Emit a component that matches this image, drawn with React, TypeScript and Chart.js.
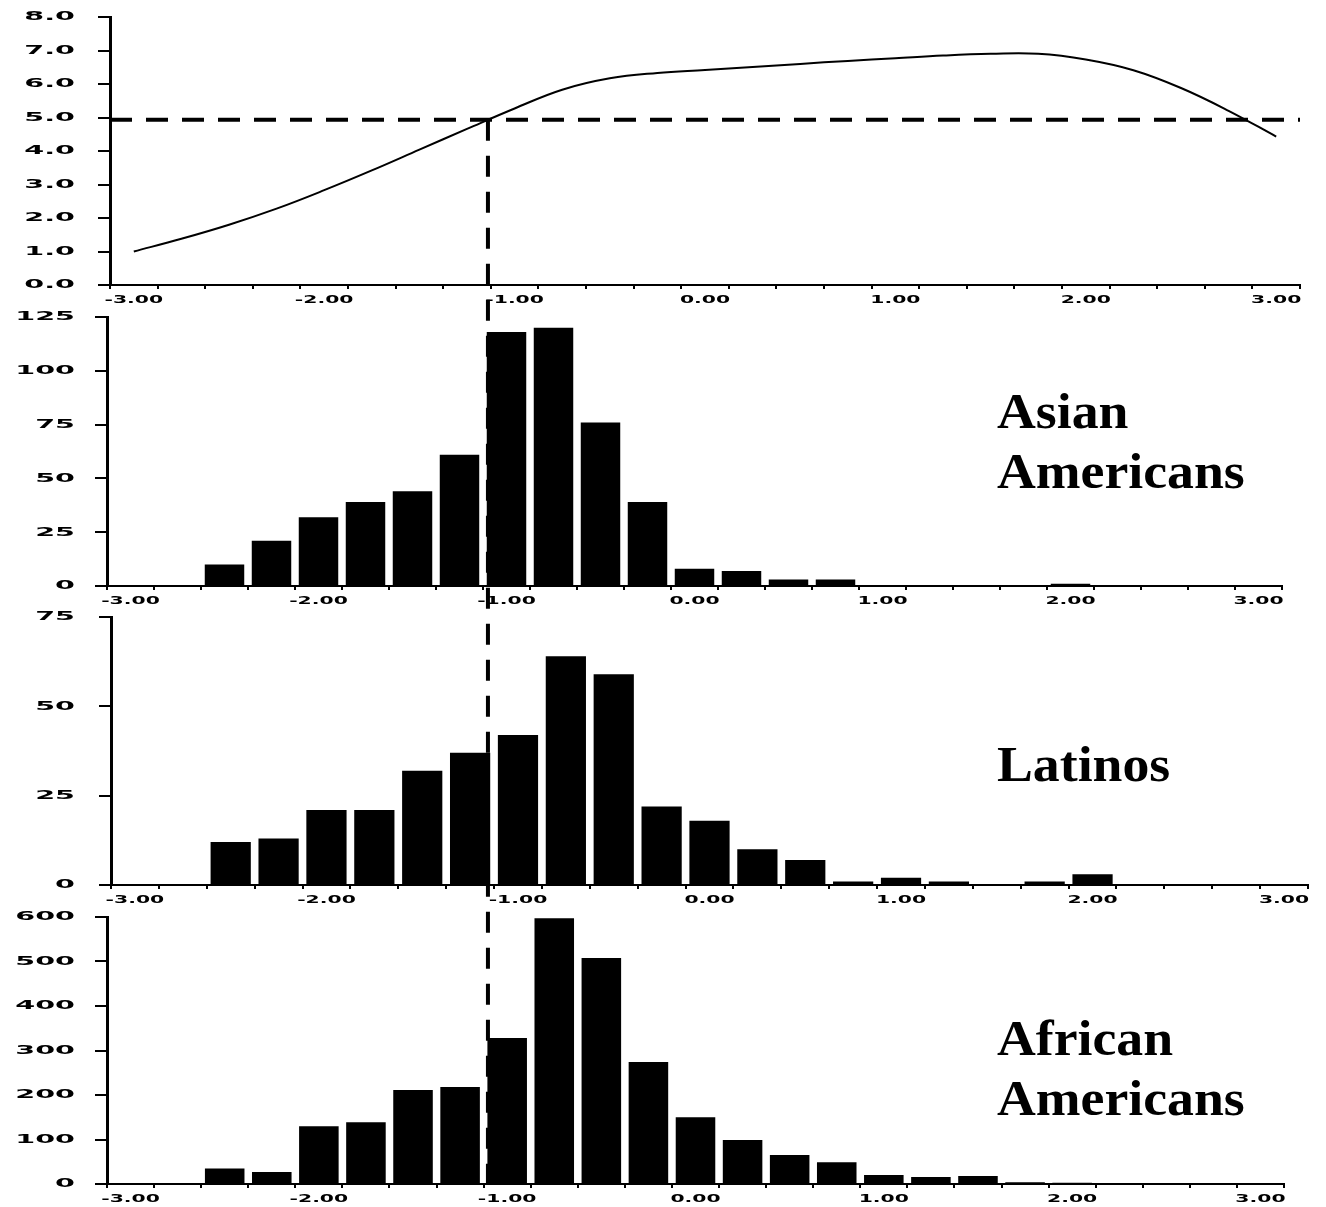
import React, { useEffect, useRef } from 'react';
import { Chart, registerables } from 'chart.js';

Chart.register(...registerables);

// ---------- data ----------
const BIN_CENTERS = [
  -3.0, -2.75, -2.5, -2.25, -2.0, -1.75, -1.5, -1.25, -1.0, -0.75, -0.5, -0.25,
  0.0, 0.25, 0.5, 0.75, 1.0, 1.25, 1.5, 1.75, 2.0, 2.25, 2.5, 2.75, 3.0,
];
const BIN_WIDTH = 0.25;

const X_LABEL_VALUES = [-3, -2, -1, 0, 1, 2, 3];
const X_LABELS = ['-3.00', '-2.00', '-1.00', '0.00', '1.00', '2.00', '3.00'];

// top panel curve (value at each bin centre)
const CURVE_Y = [
  1.0, 1.38, 1.8, 2.28, 2.83, 3.42, 4.04, 4.66, 5.27, 5.83, 6.17, 6.33,
  6.42, 6.51, 6.6, 6.69, 6.77, 6.85, 6.9, 6.9, 6.73, 6.41, 5.88, 5.2, 4.43,
];
const CUTOFF_Y = 4.93;
const CUTOFF_X = -1.14;

const TOP_Y_VALUES = [0, 1, 2, 3, 4, 5, 6, 7, 8];
const TOP_Y_LABELS = ['0.0', '1.0', '2.0', '3.0', '4.0', '5.0', '6.0', '7.0', '8.0'];

const ASIAN_COUNTS = [0, 0, 10, 21, 32, 39, 44, 61, 118, 120, 76, 39, 8, 7, 3, 3, 0, 0, 0, 0, 1, 0, 0, 0, 0];
const ASIAN_Y_VALUES = [0, 25, 50, 75, 100, 125];
const ASIAN_Y_LABELS = ['0', '25', '50', '75', '100', '125'];

const LATINO_COUNTS = [0, 0, 12, 13, 21, 21, 32, 37, 42, 64, 59, 22, 18, 10, 7, 1, 2, 1, 0, 1, 3, 0, 0, 0, 0];
const LATINO_Y_VALUES = [0, 25, 50, 75];
const LATINO_Y_LABELS = ['0', '25', '50', '75'];

const AFRICAN_COUNTS = [0, 0, 35, 27, 130, 139, 211, 218, 328, 597, 508, 274, 150, 99, 65, 49, 20, 16, 18, 4, 3, 0, 2, 0, 0];
const AFRICAN_Y_VALUES = [0, 100, 200, 300, 400, 500, 600];
const AFRICAN_Y_LABELS = ['0', '100', '200', '300', '400', '500', '600'];

const ASIAN_TITLE = ['Asian', 'Americans'];
const LATINO_TITLE = ['Latinos'];
const AFRICAN_TITLE = ['African', 'Americans'];

// ---------- layout ----------
const W = 1326;
const PANELS = [
  { top: 0, height: 305, pad: { left: 98, right: 26, top: 17, bottom: 16 } },
  { top: 305, height: 300, pad: { left: 95, right: 44, top: 12, bottom: 15 } },
  { top: 605, height: 300, pad: { left: 99, right: 18, top: 12, bottom: 16 } },
  { top: 905, height: 302, pad: { left: 95, right: 42, top: 12, bottom: 19 } },
];
const Y_LABEL_RIGHT = 75;
const TITLE_X = 997;

const X_MIN = BIN_CENTERS[0] - BIN_WIDTH / 2;
const X_MAX = BIN_CENTERS[BIN_CENTERS.length - 1] + BIN_WIDTH / 2;
const BIN_EDGES = [...BIN_CENTERS.map((c) => c - BIN_WIDTH / 2), X_MAX];

function xScale() {
  return {
    type: 'linear',
    min: X_MIN,
    max: X_MAX,
    offset: false,
    afterBuildTicks: (s: any) => {
      s.ticks = BIN_EDGES.map((v) => ({ value: v }));
    },
    ticks: { display: false },
    grid: {
      display: true,
      drawOnChartArea: false,
      drawTicks: true,
      tickLength: 4,
      color: '#000',
      lineWidth: 2,
      offset: false,
    },
    border: { display: true, color: '#000', width: 2 },
  };
}

function yScale(values: number[]) {
  return {
    type: 'linear',
    min: values[0],
    max: values[values.length - 1],
    afterBuildTicks: (s: any) => {
      s.ticks = values.map((v) => ({ value: v }));
    },
    ticks: { display: false },
    grid: {
      display: true,
      drawOnChartArea: false,
      drawTicks: true,
      tickLength: 12,
      color: '#000',
      lineWidth: 2,
    },
    border: { display: true, color: '#000', width: 3 },
  };
}

function axisLabelPlugin(yValues: number[], yLabels: string[]) {
  return {
    id: 'axisLabels',
    afterDraw(chart: any) {
      const ctx = chart.ctx;
      const xs = chart.scales.x;
      const ys = chart.scales.y;
      const area = chart.chartArea;
      ctx.save();
      ctx.fillStyle = '#000';
      ctx.font = 'bold 13px "DejaVu Sans"';
      ctx.textAlign = 'right';
      ctx.textBaseline = 'middle';
      yValues.forEach((v, i) => {
        ctx.save();
        ctx.translate(Y_LABEL_RIGHT, ys.getPixelForValue(v));
        ctx.scale(2.2, 1);
        ctx.fillText(yLabels[i], 0, 0);
        ctx.restore();
      });
      ctx.font = 'bold 11px "DejaVu Sans"';
      ctx.textAlign = 'center';
      X_LABEL_VALUES.forEach((v, i) => {
        ctx.save();
        ctx.translate(xs.getPixelForValue(v), area.bottom + 15);
        ctx.scale(1.85, 1);
        ctx.fillText(X_LABELS[i], 0, 0);
        ctx.restore();
      });
      ctx.restore();
    },
  };
}

function cutLinePlugin(shared: any, canvasTop: number, mode: 'top' | 'mid' | 'bottom') {
  return {
    id: 'cutLine',
    beforeDatasetsDraw(chart: any) {
      const ctx = chart.ctx;
      let x: number;
      let y0: number;
      let y1: number;
      if (mode === 'top') {
        x = chart.scales.x.getPixelForValue(CUTOFF_X);
        y0 = chart.scales.y.getPixelForValue(CUTOFF_Y);
        shared.cutPx = x;
        shared.startY = canvasTop + y0;
        y1 = chart.height;
      } else {
        x = shared.cutPx;
        y0 = 0;
        y1 = mode === 'bottom' ? chart.chartArea.bottom : chart.height;
      }
      ctx.save();
      ctx.strokeStyle = '#000';
      ctx.lineWidth = 4;
      ctx.setLineDash([21, 15]);
      ctx.lineDashOffset = canvasTop + y0 - shared.startY;
      ctx.beginPath();
      ctx.moveTo(x, y0);
      ctx.lineTo(x, y1);
      ctx.stroke();
      ctx.restore();
    },
  };
}

function titlePlugin(lines: string[], baselines: number[]) {
  return {
    id: 'panelTitle',
    afterDraw(chart: any) {
      const ctx = chart.ctx;
      ctx.save();
      ctx.fillStyle = '#000';
      ctx.font = 'bold 50px "Liberation Serif"';
      ctx.textAlign = 'left';
      ctx.textBaseline = 'alphabetic';
      lines.forEach((t, i) => {
        ctx.save();
        ctx.translate(TITLE_X, baselines[i]);
        ctx.scale(1.075, 1);
        ctx.fillText(t, 0, 0);
        ctx.restore();
      });
      ctx.restore();
    },
  };
}

function barConfig(counts: number[], yValues: number[], yLabels: string[], panelIdx: number, shared: any, title: string[], baselines: number[]) {
  const p = PANELS[panelIdx];
  return {
    type: 'bar',
    data: {
      datasets: [
        {
          data: BIN_CENTERS.map((x, i) => ({ x, y: counts[i] })),
          backgroundColor: '#000',
          borderWidth: 0,
          barPercentage: 0.84,
          categoryPercentage: 1,
        },
      ],
    },
    options: {
      responsive: false,
      animation: false,
      events: [],
      layout: { padding: p.pad },
      plugins: { legend: { display: false }, tooltip: { enabled: false } },
      scales: { x: xScale(), y: yScale(yValues) },
    },
    plugins: [
      cutLinePlugin(shared, p.top, panelIdx === 3 ? 'bottom' : 'mid'),
      axisLabelPlugin(yValues, yLabels),
      titlePlugin(title, baselines),
    ],
  } as any;
}

export default function App() {
  const r1 = useRef<HTMLCanvasElement>(null);
  const r2 = useRef<HTMLCanvasElement>(null);
  const r3 = useRef<HTMLCanvasElement>(null);
  const r4 = useRef<HTMLCanvasElement>(null);

  useEffect(() => {
    const shared: any = { cutPx: 0, startY: 0 };
    const charts: Chart[] = [];
    const p0 = PANELS[0];

    charts.push(
      new Chart(r1.current as HTMLCanvasElement, {
        type: 'line',
        data: {
          datasets: [
            {
              data: BIN_CENTERS.map((x, i) => ({ x, y: CURVE_Y[i] })),
              borderColor: '#000',
              borderWidth: 2,
              pointRadius: 0,
              tension: 0.4,
              fill: false,
            },
            {
              data: [
                { x: X_MIN, y: CUTOFF_Y },
                { x: X_MAX, y: CUTOFF_Y },
              ],
              borderColor: '#000',
              borderWidth: 4,
              borderDash: [22, 14],
              pointRadius: 0,
              fill: false,
            },
          ],
        },
        options: {
          responsive: false,
          animation: false,
          events: [],
          layout: { padding: p0.pad },
          plugins: { legend: { display: false }, tooltip: { enabled: false } },
          scales: { x: xScale(), y: yScale(TOP_Y_VALUES) },
        },
        plugins: [cutLinePlugin(shared, p0.top, 'top'), axisLabelPlugin(TOP_Y_VALUES, TOP_Y_LABELS)],
      } as any)
    );

    charts.push(
      new Chart(
        r2.current as HTMLCanvasElement,
        barConfig(ASIAN_COUNTS, ASIAN_Y_VALUES, ASIAN_Y_LABELS, 1, shared, ASIAN_TITLE, [428 - PANELS[1].top, 488 - PANELS[1].top])
      )
    );
    charts.push(
      new Chart(
        r3.current as HTMLCanvasElement,
        barConfig(LATINO_COUNTS, LATINO_Y_VALUES, LATINO_Y_LABELS, 2, shared, LATINO_TITLE, [781 - PANELS[2].top])
      )
    );
    charts.push(
      new Chart(
        r4.current as HTMLCanvasElement,
        barConfig(AFRICAN_COUNTS, AFRICAN_Y_VALUES, AFRICAN_Y_LABELS, 3, shared, AFRICAN_TITLE, [1055 - PANELS[3].top, 1115 - PANELS[3].top])
      )
    );

    return () => {
      charts.forEach((c) => c.destroy());
    };
  }, []);

  const refs = [r1, r2, r3, r4];
  return (
    <div
      style={{
        position: 'absolute',
        left: 0,
        top: 0,
        width: W,
        height: 1207,
        background: '#fff',
        overflow: 'hidden',
      }}
    >
      {PANELS.map((p, i) => (
        <canvas
          key={i}
          ref={refs[i]}
          width={W}
          height={p.height}
          style={{ position: 'absolute', left: 0, top: p.top, width: W, height: p.height }}
        />
      ))}
    </div>
  );
}
